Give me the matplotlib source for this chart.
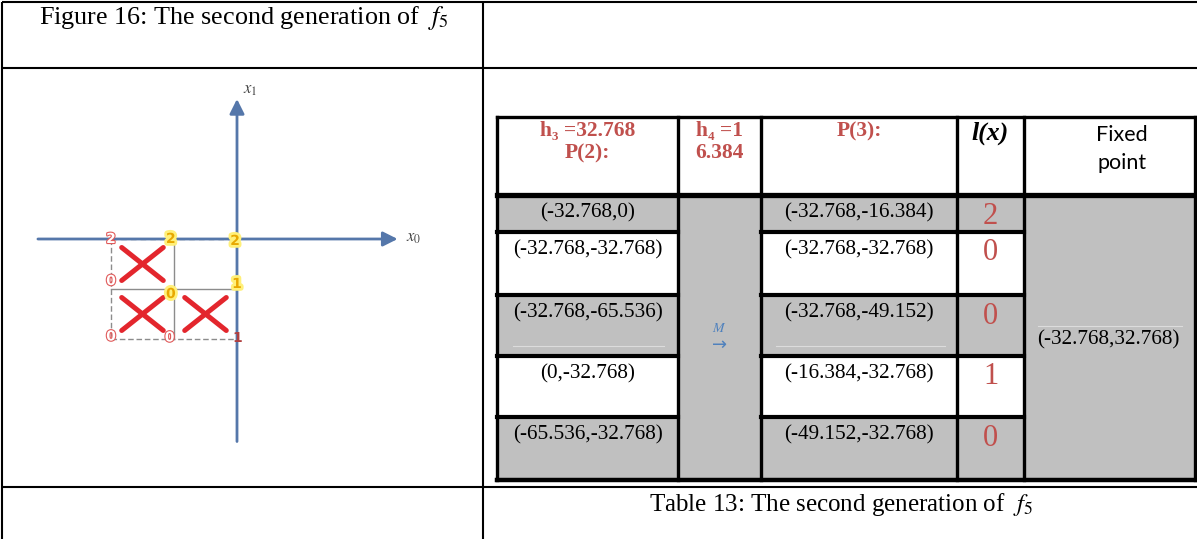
import matplotlib.pyplot as plt
import matplotlib.patheffects as pe
from matplotlib.patches import Rectangle

plt.rcParams['mathtext.fontset'] = 'stix'

# ---- table data ----
header_p2 = ["h\u2083 =32.768", "P(2):"]
header_h4 = ["h\u2084 =1", "6.384"]
header_p3 = ["P(3):"]
header_l = "l(x)"
header_fixed = ["Fixed", "point"]
p2_points = ["(-32.768,0)", "(-32.768,-32.768)", "(-32.768,-65.536)",
             "(0,-32.768)", "(-65.536,-32.768)"]
p3_points = ["(-32.768,-16.384)", "(-32.768,-32.768)", "(-32.768,-49.152)",
             "(-16.384,-32.768)", "(-49.152,-32.768)"]
l_values = [2, 0, 0, 1, 0]
fixed_point = "(-32.768,32.768)"
fig_caption = "Figure 16: The second generation of  $f_5$"
table_caption = "Table 13: The second generation of  $f_5$"

# ---- figure 16 data (grid units of h) ----
node_x = [-2, -1, 0, -2, -1, 0, -2, -1, 0]
node_y = [0, 0, 0, -1, -1, -1, -2, -2, -2]
node_label = ["2", "2", "2", "0", "0", "1", "0", "0", "1"]
node_kind = ["r", "y", "y", "r", "y", "y", "r", "r", "d"]
cross_x = [-1.5, -1.5, -0.5]
cross_y = [-0.5, -1.5, -1.5]

W, H = 1197, 539
fig = plt.figure(figsize=(W / 100, H / 100), dpi=100)
ax = fig.add_axes([0, 0, 1, 1])
ax.set_xlim(0, W)
ax.set_ylim(H, 0)
ax.axis('off')

serif = ['Liberation Serif', 'DejaVu Serif']
red = '#c0504d'
gray = '#c0c0c0'

# outer layout table
for xs, ys in [([2, 2], [2, 539]), ([483, 483], [2, 539]), ([2, W], [2, 2]),
               ([2, W], [68, 68]), ([2, W], [487, 487])]:
    ax.plot(xs, ys, color='black', lw=1.5, solid_capstyle='butt')

ax.text(244, 18, fig_caption, ha='center', va='center', fontsize=18.8,
        family=serif)
ax.text(841, 505, table_caption, ha='center', va='center', fontsize=18,
        family=serif)

# inner table
col_edges = [497, 678, 761, 957, 1024, 1195]
row_edges = [117, 195, 232, 295, 356, 417, 480]
ax.add_patch(Rectangle((col_edges[0], row_edges[0]), col_edges[-1] - col_edges[0],
                       row_edges[-1] - row_edges[0], color='white', zorder=0))
for i in range(5):
    y0, y1 = row_edges[i + 1], row_edges[i + 2]
    for c in range(5):
        shaded = c in (1, 4) or i % 2 == 0
        if shaded:
            ax.add_patch(Rectangle((col_edges[c], y0), col_edges[c + 1] - col_edges[c],
                                   y1 - y0, color=gray, lw=0, zorder=1))

for x in col_edges:
    ax.plot([x, x], [row_edges[0], row_edges[-1]], color='black', lw=2.4,
            zorder=3, solid_capstyle='projecting')
ax.plot([col_edges[0], col_edges[-1]], [row_edges[0]] * 2, color='black', lw=2.4, zorder=3)
ax.plot([col_edges[0], col_edges[-1]], [row_edges[1]] * 2, color='black', lw=3.8, zorder=3)
ax.plot([col_edges[0], col_edges[-1]], [row_edges[-1]] * 2, color='black', lw=3.2, zorder=3)
for y in row_edges[2:-1]:
    for c in (0, 2, 3):
        ax.plot([col_edges[c], col_edges[c + 1]], [y, y], color='black', lw=3.0, zorder=3)

# faint lines inside shaded cells
ax.plot([513, 664], [346, 346], color='#dcdcdc', lw=0.8, zorder=2)
ax.plot([776, 945], [346, 346], color='#dcdcdc', lw=0.8, zorder=2)
ax.plot([1038, 1182], [326, 326], color='#dcdcdc', lw=0.8, zorder=2)

# header
cx = [(col_edges[i] + col_edges[i + 1]) / 2 for i in range(5)]
hdr = dict(ha='center', va='center', fontsize=15.5, color=red, weight='bold',
           family=serif, zorder=4)
for col, lines in [(0, header_p2), (1, header_h4), (2, header_p3)]:
    for j, t in enumerate(lines):
        ax.text(cx[col], 131 + 22 * j, t, **hdr)
ax.text(cx[3], 133, header_l, ha='center', va='center', fontsize=18.5,
        style='italic', weight='bold', family=serif, zorder=4)
for j, t in enumerate(header_fixed):
    ax.text(1122, 135 + 28 * j, t, ha='center', va='center', fontsize=15.5,
            family=['Lato', 'DejaVu Sans'], zorder=4)

# body
for i in range(5):
    top = row_edges[i + 1]
    ax.text(cx[0], top + 18, p2_points[i], ha='center', va='center', fontsize=15.3,
            family=serif, zorder=4)
    ax.text(cx[2], top + 18, p3_points[i], ha='center', va='center', fontsize=15.3,
            family=serif, zorder=4)
    ax.text(cx[3], top + 21, str(l_values[i]), ha='center', va='center', fontsize=22,
            color=red, family=serif, zorder=4)
ax.text(cx[1], 328, "$M$", ha='center', va='center', fontsize=10, color='#4f81bd', zorder=4)
ax.text(cx[1], 345, "\u2192", ha='center', va='center', fontsize=13, color='#4f81bd',
        family=['DejaVu Sans'], zorder=4)
ax.text(cx[4] - 1, 340, fixed_point, ha='center', va='center', fontsize=15.3,
        family=serif, zorder=4)

# ---- figure 16 drawing ----
ox, oy, ux, uy = 237, 239, 63, 50
px0, px1, py0, py1 = 20, 460, 75, 470
fx = fig.add_axes([px0 / W, 1 - py1 / H, (px1 - px0) / W, (py1 - py0) / H])
fx.set_xlim((px0 - ox) / ux, (px1 - ox) / ux)
fx.set_ylim((oy - py1) / uy, (oy - py0) / uy)
fx.axis('off')

axis_col = '#5577aa'
fx.annotate('', xy=(2.55, 0), xytext=(-3.16, 0),
            arrowprops=dict(arrowstyle='-|>', color=axis_col, lw=2,
                            mutation_scale=22, shrinkA=0, shrinkB=0))
fx.annotate('', xy=(0, 2.8), xytext=(0, -4.05),
            arrowprops=dict(arrowstyle='-|>', color=axis_col, lw=2,
                            mutation_scale=22, shrinkA=0, shrinkB=0))
fx.text(2.68, 0.05, "$x_0$", fontsize=12, color='#444444', ha='left', va='center')
fx.text(0.1, 3.0, "$x_1$", fontsize=12, color='#444444', ha='left', va='center')

grid_col = '#8c8c8c'
fx.plot([-2, -2], [0, -2], color=grid_col, lw=1, ls=(0, (4, 2)))
fx.plot([-1, -1], [0, -2], color=grid_col, lw=1)
fx.plot([-2, 0], [-1, -1], color=grid_col, lw=1)
fx.plot([-2, 0], [-2, -2], color=grid_col, lw=1, ls=(0, (4, 2)))
fx.plot([-2, 0], [0, 0], color=grid_col, lw=1, ls=(0, (4, 3)))

for x, y in zip(cross_x, cross_y):
    fx.plot([x - 0.33, x + 0.33], [y - 0.33, y + 0.33], color='#e3262d', lw=3.6,
            solid_capstyle='round')
    fx.plot([x - 0.33, x + 0.33], [y + 0.33, y - 0.33], color='#e3262d', lw=3.6,
            solid_capstyle='round')

label_style = {
    'r': dict(color='white', path_effects=[pe.withStroke(linewidth=1.6, foreground='#e05a5a')]),
    'y': dict(color='#e8a800', path_effects=[pe.withStroke(linewidth=4, foreground='#fff07a')]),
    'd': dict(color='#b04040'),
}
label_off = [(0, 0), (-0.05, 0), (-0.03, -0.04), (0, 0.16), (-0.05, -0.1),
             (0, 0.1), (0, 0.05), (-0.07, 0.03), (0, 0.03)]
for x, y, t, k, (dx, dy) in zip(node_x, node_y, node_label, node_kind, label_off):
    fx.text(x + dx, y + dy, t, ha='center', va='center', fontsize=10, weight='bold',
            family=['DejaVu Sans'], **label_style[k])

fig.savefig('out.png', dpi=100)
